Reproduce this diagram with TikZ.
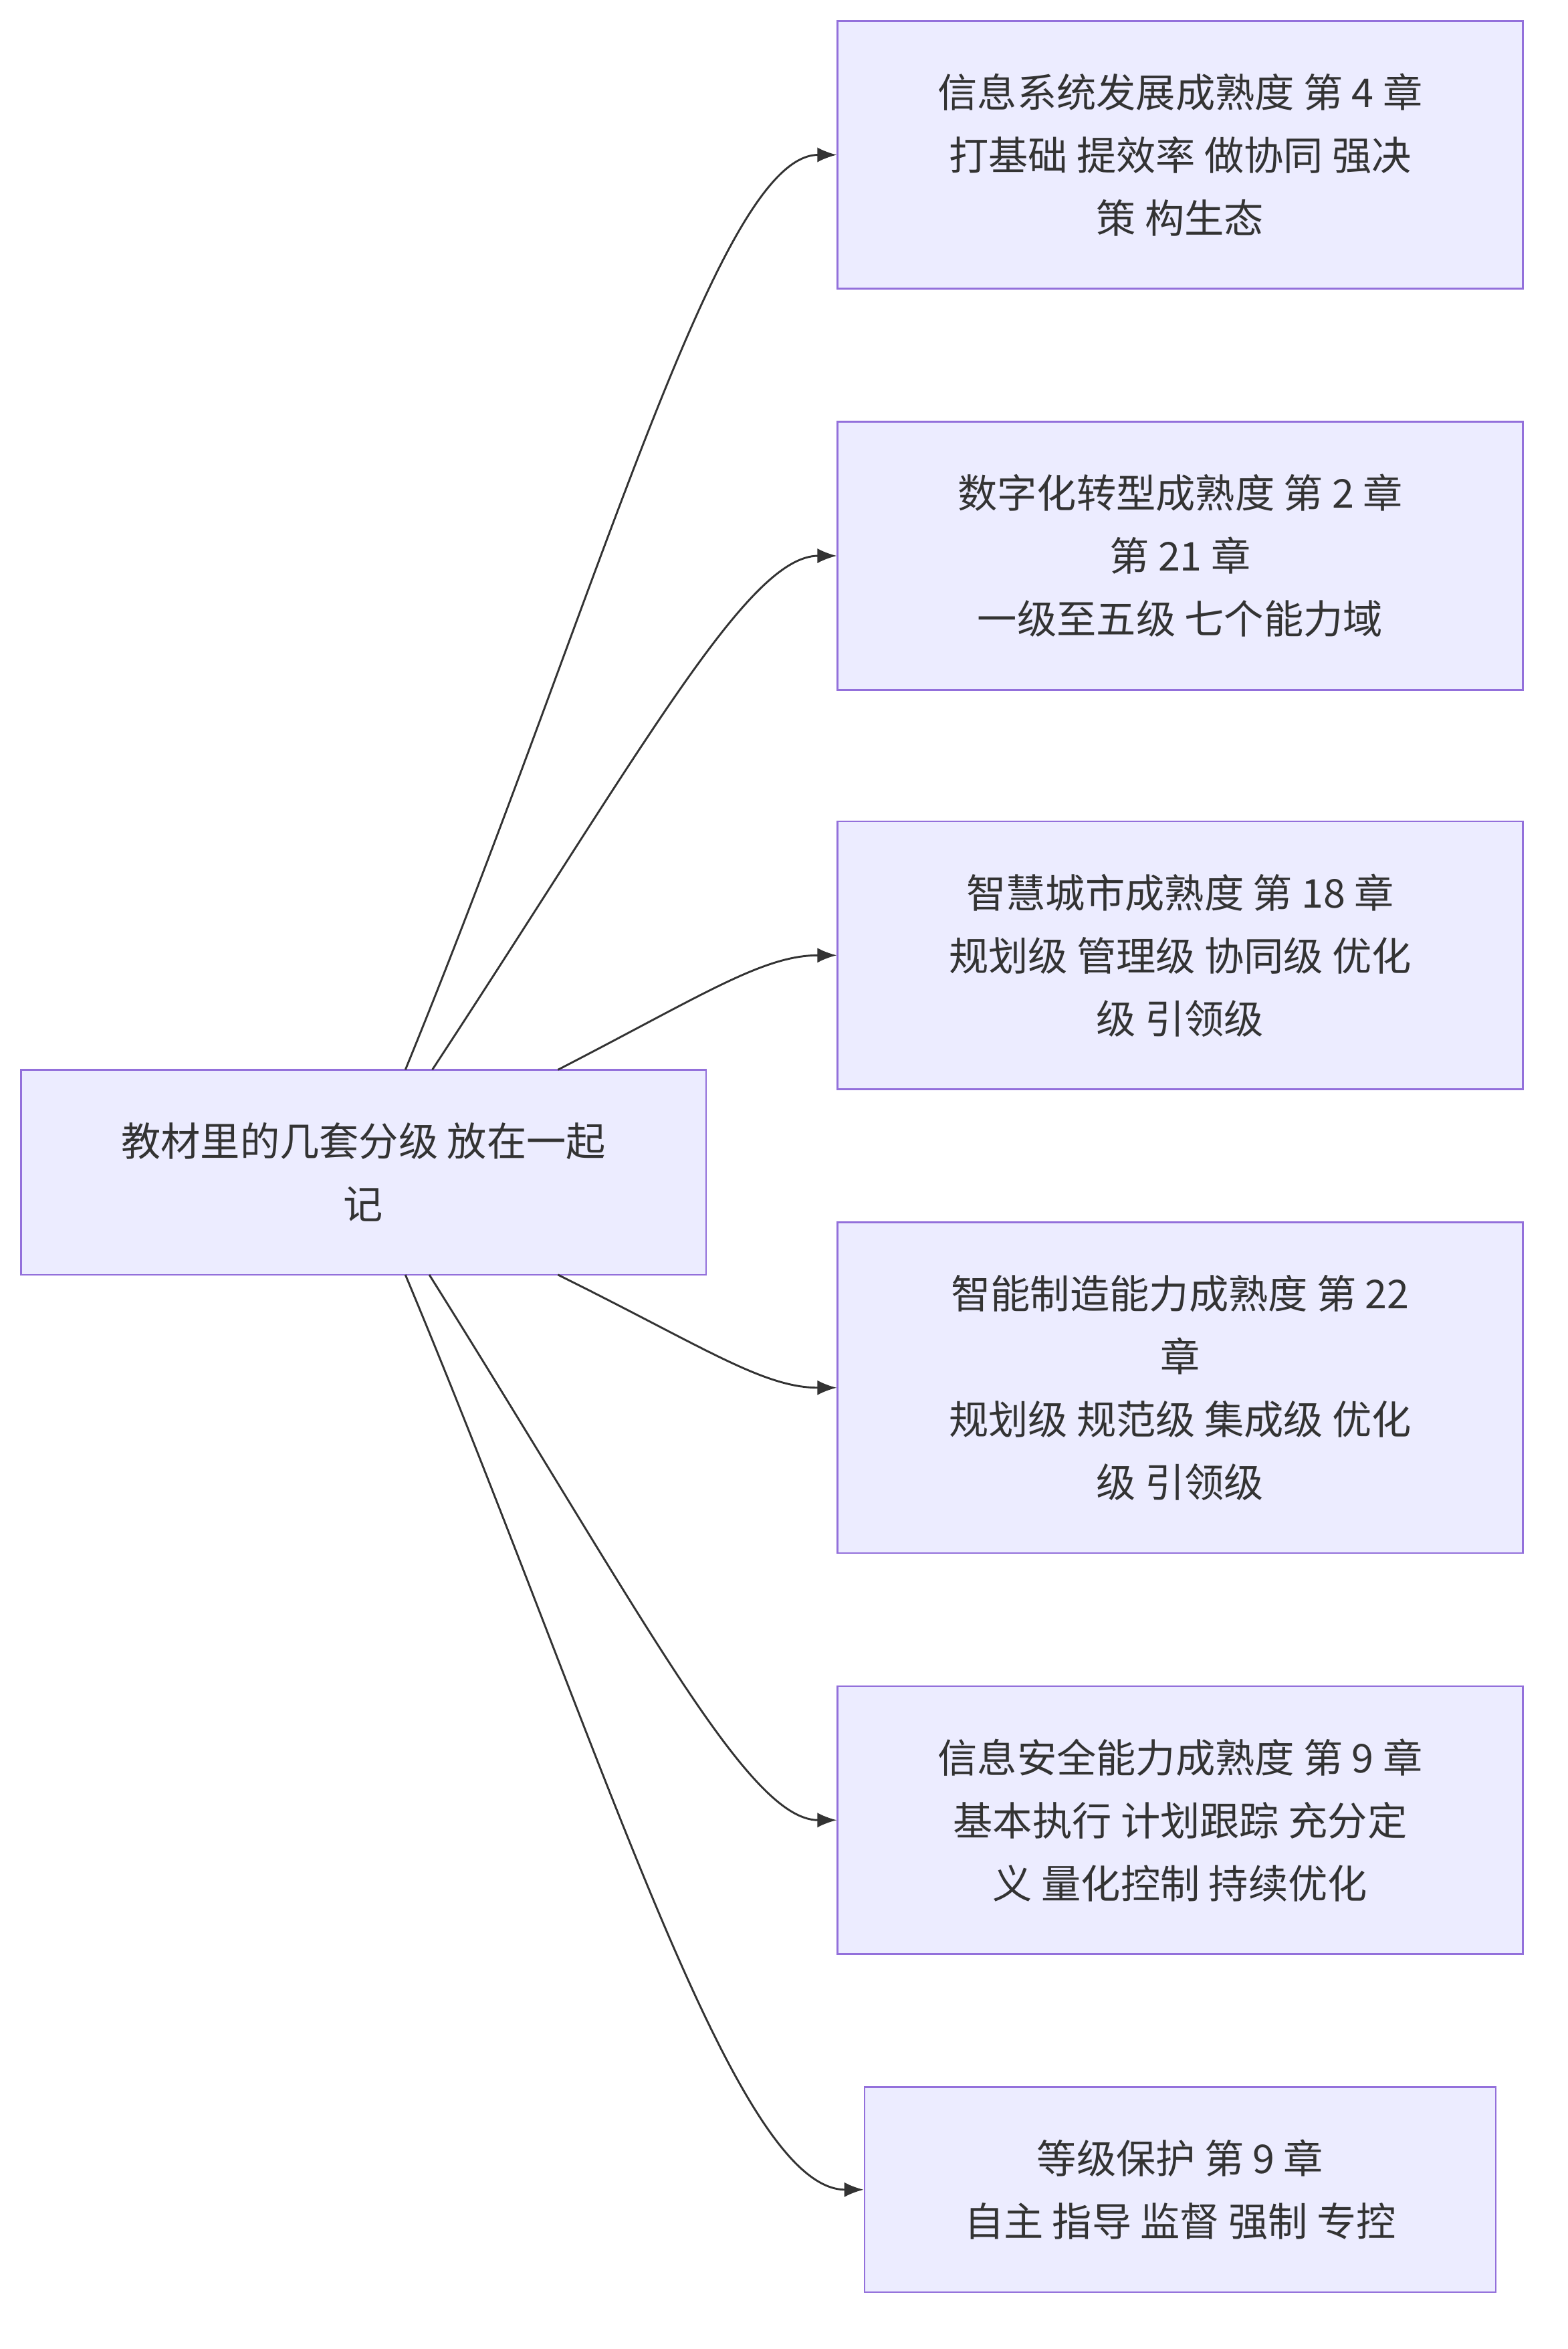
\documentclass[tikz,border=0pt]{standalone}
\usepackage{fontspec}
\setmainfont{Noto Sans CJK SC}
\usetikzlibrary{arrows.meta}
\definecolor{boxfill}{HTML}{ECECFF}
\definecolor{boxline}{HTML}{9370DB}
\definecolor{edge}{HTML}{333333}
\begin{document}
\begin{tikzpicture}[x=1pt,y=-1pt]
\tikzstyle{every node}=[fill=boxfill,draw=boxline,line width=1.2pt,align=center,
  font=\fontsize{26.5}{42}\selectfont,text=edge]
\tikzstyle{conn}=[draw=edge,line width=1.3pt,-{Latex[length=13pt,width=10pt]}]
\useasboundingbox (0,0) rectangle (1048,1570);
\node[minimum width=458,minimum height=137] (root) at (243,783.5) {教材里的几套分级 放在一起\\记};
\node[minimum width=458,minimum height=179] (xxfz) at (789,103.5) {信息系统发展成熟度 第 4 章\\打基础 提效率 做协同 强决\\策 构生态};
\node[minimum width=458,minimum height=179] (szzx) at (789,371.5) {数字化转型成熟度 第 2 章\\第 21 章\\一级至五级 七个能力域};
\node[minimum width=458,minimum height=179] (zhcs) at (789,638.5) {智慧城市成熟度 第 18 章\\规划级 管理级 协同级 优化\\级 引领级};
\node[minimum width=458,minimum height=221] (znzz) at (789,927.5) {智能制造能力成熟度 第 22\\章\\规划级 规范级 集成级 优化\\级 引领级};
\node[minimum width=458,minimum height=179] (xxaq) at (789,1216.5) {信息安全能力成熟度 第 9 章\\基本执行 计划跟踪 充分定\\义 量化控制 持续优化};
\node[minimum width=422,minimum height=137] (djbh) at (789,1463.5) {等级保护 第 9 章\\自主 指导 监督 强制 专控};
% edge ends on the root
\coordinate (r1) at (271,715);
\coordinate (r2) at (289,715);
\coordinate (r3) at (373,715);
\coordinate (r4) at (373,852);
\coordinate (r5) at (287,852);
\coordinate (r6) at (271,852);
\draw[conn] (r1) .. controls (400,400) and (480,103.5) .. (xxfz.west);
\draw[conn] (r2) .. controls (430,500) and (500,371.5) .. (szzx.west);
\draw[conn] (r3) .. controls (470,665) and (510,638.5) .. (zhcs.west);
\draw[conn] (r4) .. controls (470,900) and (510,927.5) .. (znzz.west);
\draw[conn] (r5) .. controls (430,1080) and (500,1216.5) .. (xxaq.west);
\draw[conn] (r6) .. controls (400,1160) and (490,1463.5) .. (djbh.west);
\end{tikzpicture}
\end{document}
